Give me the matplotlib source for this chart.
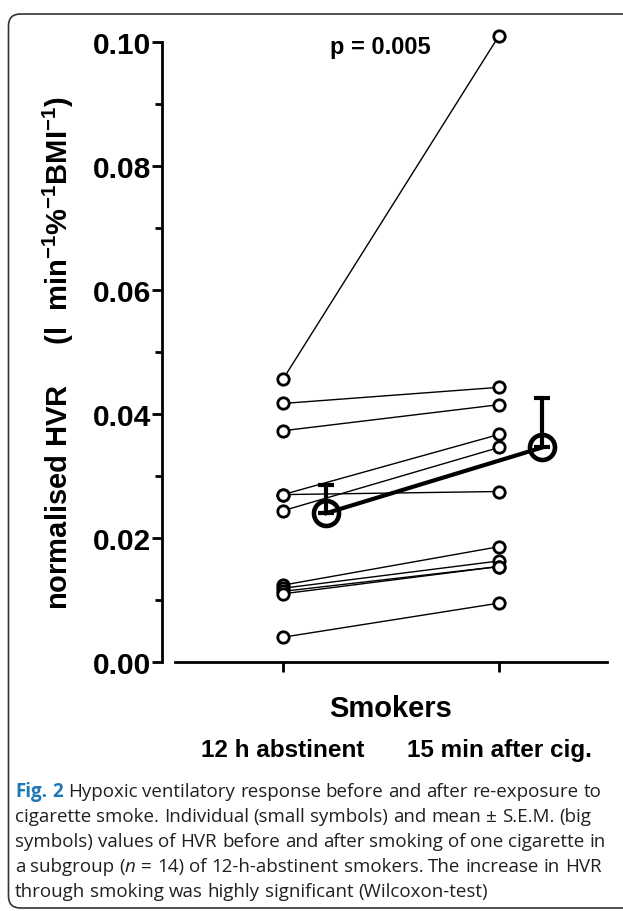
import matplotlib.pyplot as plt
from matplotlib.patches import FancyBboxPatch
from matplotlib.ticker import MultipleLocator, FormatStrFormatter
import matplotlib.transforms as mtransforms

# individual HVR values (l min-1 %-1 BMI-1)
groups = ['12 h abstinent', '15 min after cig.']
before = [0.0456, 0.0417, 0.0373, 0.0270, 0.0270, 0.0244,
          0.0124, 0.0119, 0.0114, 0.0110, 0.0040]
after = [0.1010, 0.0443, 0.0415, 0.0367, 0.0275, 0.0346,
         0.0186, 0.0163, 0.0154, 0.0154, 0.0095]
mean_vals = [0.0240, 0.0346]
sem_vals = [0.0046, 0.0080]
p_text = 'p = 0.005'

caption_lines = [
    'Fig. 2 Hypoxic ventilatory response before and after re-exposure to',
    'cigarette smoke. Individual (small symbols) and mean \u00b1 S.E.M. (big',
    'symbols) values of HVR before and after smoking of one cigarette in',
    'a subgroup ($\\mathit{n}$ = 14) of 12-h-abstinent smokers. The increase in HVR',
    'through smoking was highly significant (Wilcoxon-test)',
]

plt.rcParams['font.family'] = 'Liberation Sans'
plt.rcParams['mathtext.fontset'] = 'custom'
plt.rcParams['mathtext.it'] = 'Open Sans:italic'
plt.rcParams['mathtext.default'] = 'regular'

W, H = 623, 912
fig = plt.figure(figsize=(W / 100, H / 100), dpi=100)
ax = fig.add_axes([0.260, 0.2730, 0.7143, 0.6799])

x = [0, 1]
mean_x = [0.2, 1.2]

# lines first, then the small circles on top
for b, a in zip(before, after):
    ax.plot(x, [b, a], color='black', lw=1.0, zorder=2, clip_on=False)
for b, a in zip(before, after):
    ax.plot(x, [b, a], ls='none', marker='o', ms=8.2, mfc='white',
            mec='black', mew=2.0, zorder=3, clip_on=False)

# mean +- SEM
ax.plot(mean_x, mean_vals, color='black', lw=3, marker='o', ms=18,
        mfc='none', mec='black', mew=3.3, zorder=5, clip_on=False)
ax.errorbar(mean_x, mean_vals, yerr=[[0, 0], sem_vals], fmt='none',
            ecolor='black', elinewidth=3, capsize=5.5, capthick=3, zorder=5)

ax.set_xlim(-0.560, 1.5)
ax.set_ylim(0, 0.1)
ax.spines['top'].set_visible(False)
ax.spines['right'].set_visible(False)
ax.spines['left'].set_linewidth(2.0)
ax.spines['bottom'].set_linewidth(2.0)
ax.spines['bottom'].set_bounds(-0.5, 1.5)

ax.yaxis.set_major_locator(MultipleLocator(0.02))
ax.yaxis.set_minor_locator(MultipleLocator(0.01))
ax.yaxis.set_major_formatter(FormatStrFormatter('%.2f'))
ax.tick_params(axis='y', which='major', direction='out', length=7, width=2.0,
               labelsize=21.5, pad=1)
ax.tick_params(axis='y', which='minor', direction='out', length=5, width=2.0)
for lab in ax.get_yticklabels():
    lab.set_fontweight('bold')
ax.set_xticks(x)
ax.set_xticklabels(['', ''])
ax.tick_params(axis='x', direction='out', length=7, width=2.0)

ax.set_ylabel('normalised HVR     (l  min$^{-1}$%$^{-1}$BMI$^{-1}$)',
              fontsize=21, fontweight='bold')
ax.yaxis.set_label_coords(-0.193, 0.5)

trans = mtransforms.blended_transform_factory(ax.transData, ax.transAxes)
ax.text(0.5, -0.087, 'Smokers', transform=trans, ha='center', va='baseline',
        fontsize=21, fontweight='bold')
for xi, g in zip(x, groups):
    ax.text(xi, -0.151, g, transform=trans, ha='center', va='baseline',
            fontsize=17.5, fontweight='bold')
ax.text(0.452, 0.0982, p_text, ha='center', va='baseline', fontsize=17,
        fontweight='bold')

# caption, one text per word, ragged right
renderer = fig.canvas.get_renderer()
cap_size = 13.5


def text_width(s):
    t = fig.text(0, 0, s, fontsize=cap_size, family='Open Sans')
    w = t.get_window_extent(renderer).width
    t.remove()
    return w


space_w = text_width('a a') - text_width('aa')
x0 = 15
baselines = [797, 822, 847, 872, 897]
for i, line in enumerate(caption_lines):
    pos = x0
    for j, word in enumerate(line.split(' ')):
        fig_label = i == 0 and j < 2
        t = fig.text(pos / W, 1 - baselines[i] / H, word, fontsize=cap_size,
                     family='Open Sans',
                     fontweight='bold' if fig_label else 'normal',
                     color='#1f78b4' if fig_label else '#231f20',
                     va='baseline', ha='left')
        pos += t.get_window_extent(renderer).width + space_w

# rounded frame around the figure
frame = FancyBboxPatch((0.085, 0.03), 6.6, 8.94,
                       boxstyle='round,pad=0,rounding_size=0.12',
                       transform=fig.dpi_scale_trans, fill=False,
                       ec='#333333', lw=1.2)
fig.add_artist(frame)

fig.savefig('out.png', dpi=100)
